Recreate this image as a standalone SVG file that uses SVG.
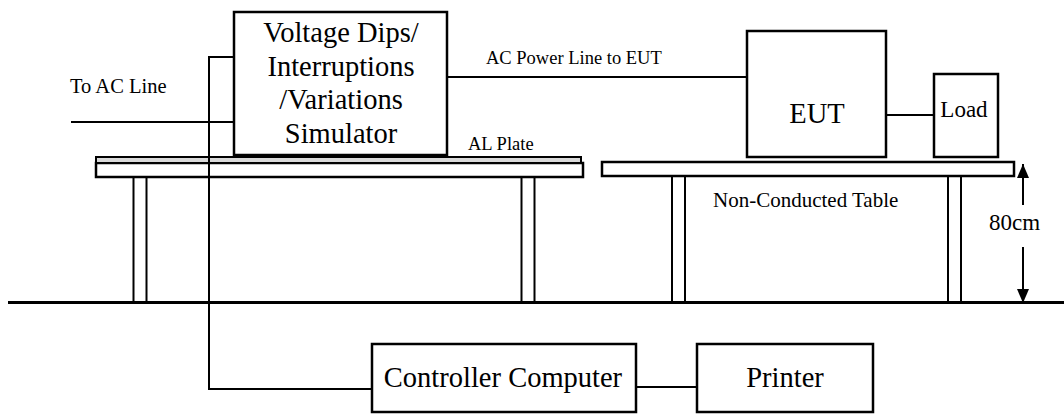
<svg xmlns="http://www.w3.org/2000/svg" width="1064" height="414" viewBox="0 0 1064 414">
<defs>
<style>
.box{fill:#fff;stroke:#000;stroke-width:2.5}
.leg{fill:#fff;stroke:#000;stroke-width:2}
.wire{fill:none;stroke:#000;stroke-width:2}
text{fill:#000}
.big{font-size:28.5px}
.mid{font-size:23px}
.sm{font-size:18.5px}
</style>
<marker id="ah" viewBox="0 0 14 12" refX="14" refY="6" markerWidth="14" markerHeight="12" markerUnits="userSpaceOnUse" orient="auto">
<path d="M0,0 L14,6 L0,12 Z" fill="#000"/>
</marker>
</defs>
<rect width="1064" height="414" fill="#fff"/>
<g id="ground"><line x1="8" y1="302.5" x2="1064" y2="302.5" stroke="#000" stroke-width="3"/></g>
<g id="left-table">
<rect class="leg" x="133.5" y="177" width="13" height="125"/>
<rect class="leg" x="521.5" y="177" width="13" height="125"/>
<rect class="box" x="96" y="163" width="487" height="14"/>
<rect x="96" y="157" width="485" height="6" fill="#d9d9d9" stroke="#000" stroke-width="2"/>
</g>
<g id="right-table">
<rect class="leg" x="672" y="176" width="13" height="126"/>
<rect class="leg" x="948" y="176" width="13" height="126"/>
<rect class="box" x="602" y="162" width="412" height="14"/>
</g>
<g id="connectors">
<polyline class="wire" points="234,57 209,57 209,389 372,389"/>
<line class="wire" x1="71" y1="122" x2="234" y2="122"/>
<line class="wire" x1="447" y1="77" x2="747" y2="77"/>
<line class="wire" x1="886" y1="115" x2="934" y2="115"/>
<line class="wire" x1="636" y1="387" x2="697" y2="387"/>
<line x1="1023" y1="205" x2="1023" y2="164" stroke="#000" stroke-width="2" marker-end="url(#ah)"/>
<line x1="1023" y1="247" x2="1023" y2="303" stroke="#000" stroke-width="2" marker-end="url(#ah)"/>
</g>
<g font-family="Liberation Serif, Times New Roman, serif">
<g id="simulator">
<rect class="box" x="234" y="12" width="213" height="143"/>
<text class="big" x="341" y="42" text-anchor="middle">Voltage Dips/</text>
<text class="big" x="341" y="75.5" text-anchor="middle">Interruptions</text>
<text class="big" x="341" y="109" text-anchor="middle">/Variations</text>
<text class="big" x="341" y="142.5" text-anchor="middle">Simulator</text>
</g>
<g id="eut">
<rect class="box" x="747" y="31" width="139" height="126"/>
<text class="big" x="817" y="123" text-anchor="middle">EUT</text>
</g>
<g id="load">
<rect class="box" x="934" y="74" width="64" height="83"/>
<text class="mid" x="964" y="117" text-anchor="middle">Load</text>
</g>
<g id="controller">
<rect class="box" x="372" y="344" width="264" height="68"/>
<text class="big" x="503" y="387" text-anchor="middle">Controller Computer</text>
</g>
<g id="printer">
<rect class="box" x="697" y="344" width="176" height="68"/>
<text class="big" x="785" y="387" text-anchor="middle">Printer</text>
</g>
<g id="labels">
<text font-size="20.5" x="70" y="93">To AC Line</text>
<text class="sm" x="486" y="64">AC Power Line to EUT</text>
<text class="sm" x="468" y="150">AL Plate</text>
<text font-size="21" x="713" y="207">Non-Conducted Table</text>
<text class="mid" x="1014.5" y="230" text-anchor="middle">80cm</text>
</g>
</g>
</svg>
